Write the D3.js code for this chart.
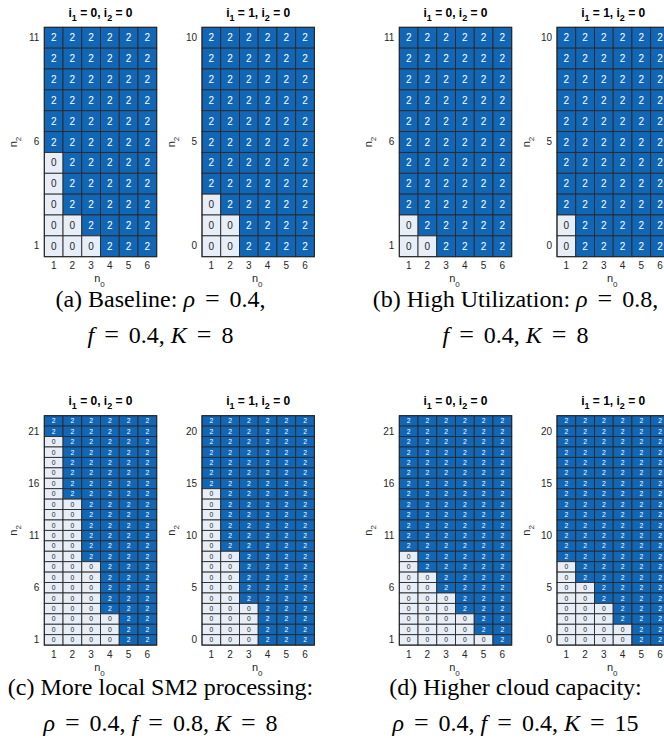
<!DOCTYPE html>
<html>
<head>
<meta charset="utf-8">
<script src="https://cdn.jsdelivr.net/npm/d3@7"></script>
<style>
  body { margin: 0; background: #fff; }
  svg { display: block; }
</style>
</head>
<body>
<div class="chart"></div>
<script>
/* columns: n0 */
const n0Values = [1, 2, 3, 4, 5, 6];

/* rows: n2, listed top to bottom */
const n2Short0 = [11, 10, 9, 8, 7, 6, 5, 4, 3, 2, 1];
const n2Short1 = [10, 9, 8, 7, 6, 5, 4, 3, 2, 1, 0];
const n2Long0 = [22, 21, 20, 19, 18, 17, 16, 15, 14, 13, 12, 11, 10, 9, 8, 7, 6, 5, 4, 3, 2, 1];
const n2Long1 = [21, 20, 19, 18, 17, 16, 15, 14, 13, 12, 11, 10, 9, 8, 7, 6, 5, 4, 3, 2, 1, 0];

/* y tick labels */
const ticksShort0 = [1, 6, 11];
const ticksShort1 = [0, 5, 10];
const ticksLong0 = [1, 6, 11, 16, 21];
const ticksLong1 = [0, 5, 10, 15, 20];

/* optimal action in each cell, one string per row (top row first), one digit per n0 */
const policyA0 = ["222222", "222222", "222222", "222222", "222222", "222222",
  "022222", "022222", "022222", "002222", "000222"];
const policyA1 = ["222222", "222222", "222222", "222222", "222222", "222222",
  "222222", "222222", "022222", "002222", "002222"];
const policyB0 = ["222222", "222222", "222222", "222222", "222222", "222222",
  "222222", "222222", "222222", "022222", "002222"];
const policyB1 = ["222222", "222222", "222222", "222222", "222222", "222222",
  "222222", "222222", "222222", "022222", "022222"];
const policyC0 = ["222222", "222222",
  "022222", "022222", "022222", "022222", "022222", "022222",
  "002222", "002222", "002222", "002222", "002222", "002222",
  "000222", "000222", "000222", "000222", "000222",
  "000022", "000022", "000022"];
const policyC1 = ["222222", "222222", "222222", "222222", "222222", "222222", "222222",
  "022222", "022222", "022222", "022222", "022222", "022222",
  "002222", "002222", "002222", "002222", "002222",
  "000222", "000222", "000222", "000222"];
const policyD0 = ["222222", "222222", "222222", "222222", "222222", "222222", "222222",
  "222222", "222222", "222222", "222222", "222222", "222222",
  "022222", "022222", "002222", "002222", "000222", "000222",
  "000022", "000022", "000002"];
const policyD1 = ["222222", "222222", "222222", "222222", "222222", "222222", "222222",
  "222222", "222222", "222222", "222222", "222222", "222222", "222222",
  "022222", "022222", "002222", "002222", "000222", "000222",
  "000022", "000022"];

/* subfigure captions: [text, kind] pieces per line (0 roman, 1 italic, 2 relation sign) */
const captionA = [[["(a) Baseline: ", 0], ["ρ", 1], ["=", 2], ["0.4,", 0]],
  [["f", 1], ["=", 2], ["0.4, ", 0], ["K", 1], ["=", 2], ["8", 0]]];
const captionB = [[["(b) High Utilization: ", 0], ["ρ", 1], ["=", 2], ["0.8,", 0]],
  [["f", 1], ["=", 2], ["0.4, ", 0], ["K", 1], ["=", 2], ["8", 0]]];
const captionC = [[["(c) More local SM2 processing:", 0]],
  [["ρ", 1], ["=", 2], ["0.4, ", 0], ["f", 1], ["=", 2], ["0.8, ", 0], ["K", 1], ["=", 2], ["8", 0]]];
const captionD = [[["(d) Higher cloud capacity:", 0]],
  [["ρ", 1], ["=", 2], ["0.4, ", 0], ["f", 1], ["=", 2], ["0.4, ", 0], ["K", 1], ["=", 2], ["15", 0]]];

/* layout */
const width = 664;
const height = 738;
const colOffset = [0, 355];
const rowOffset = [0, 388.4];
const hmLeft = [44.3, 202];
const hmWidth = 112.4;
const hmTop = 27.3;
const hmHeight = 229.4;

const sans = "'Liberation Sans', Arial, Helvetica, sans-serif";
const serif = "'Liberation Serif', 'Times New Roman', serif";
const axisColor = "#262626";

const color = d3.scaleOrdinal().domain([0, 2]).range(["#e7eef7", "#1166b6"]);

const subfigs = [
  { col: 0, row: 0, caption: captionA, maps: [
    { i1: 0, n2: n2Short0, ticks: ticksShort0, policy: policyA0 },
    { i1: 1, n2: n2Short1, ticks: ticksShort1, policy: policyA1 }] },
  { col: 1, row: 0, caption: captionB, maps: [
    { i1: 0, n2: n2Short0, ticks: ticksShort0, policy: policyB0 },
    { i1: 1, n2: n2Short1, ticks: ticksShort1, policy: policyB1 }] },
  { col: 0, row: 1, caption: captionC, maps: [
    { i1: 0, n2: n2Long0, ticks: ticksLong0, policy: policyC0 },
    { i1: 1, n2: n2Long1, ticks: ticksLong1, policy: policyC1 }] },
  { col: 1, row: 1, caption: captionD, maps: [
    { i1: 0, n2: n2Long0, ticks: ticksLong0, policy: policyD0 },
    { i1: 1, n2: n2Long1, ticks: ticksLong1, policy: policyD1 }] }
];

const svg = d3.select(".chart").append("svg")
  .attr("width", width)
  .attr("height", height)
  .attr("viewBox", [0, 0, width, height]);

subfigs.forEach(sf => {
  const g = svg.append("g")
    .attr("transform", `translate(${colOffset[sf.col]},${rowOffset[sf.row]})`);

  sf.maps.forEach((m, k) => {
    const x0 = hmLeft[k];
    const x = d3.scaleBand().domain(n0Values).range([x0, x0 + hmWidth]);
    const y = d3.scaleBand().domain(m.n2).range([hmTop, hmTop + hmHeight]);
    const small = m.n2.length > 15;

    const cells = m.policy.flatMap((rowStr, ri) =>
      rowStr.split("").map((ch, ci) => ({ n0: n0Values[ci], n2: m.n2[ri], v: +ch })));

    const hm = g.append("g").attr("class", "heatmap");

    hm.selectAll("rect")
      .data(cells)
      .join("rect")
        .attr("x", d => x(d.n0))
        .attr("y", d => y(d.n2))
        .attr("width", x.bandwidth())
        .attr("height", y.bandwidth())
        .attr("fill", d => color(d.v))
        .attr("stroke", "#2a2a2a")
        .attr("stroke-width", 0.9);

    hm.selectAll("text")
      .data(cells)
      .join("text")
        .attr("x", d => x(d.n0) + x.bandwidth() / 2)
        .attr("y", d => y(d.n2) + y.bandwidth() / 2)
        .attr("dy", "0.36em")
        .attr("text-anchor", "middle")
        .style("font-family", sans)
        .style("font-size", small ? "6.8px" : "10px")
        .attr("fill", d => d.v === 0 ? "#262626" : "#ffffff")
        .text(d => d.v);

    /* outline */
    hm.append("rect")
      .attr("x", x0).attr("y", hmTop)
      .attr("width", hmWidth).attr("height", hmHeight)
      .attr("fill", "none")
      .attr("stroke", "#262626")
      .attr("stroke-width", 1);

    /* axes */
    const yAxis = g.append("g")
      .attr("transform", `translate(${x0},0)`)
      .call(d3.axisLeft(y).tickValues(m.ticks).tickSize(0).tickPadding(5));
    const xAxis = g.append("g")
      .attr("transform", `translate(0,${hmTop + hmHeight})`)
      .call(d3.axisBottom(x).tickSize(0).tickPadding(5.5));
    [yAxis, xAxis].forEach(a => {
      a.select(".domain").remove();
      a.selectAll("text")
        .style("font-family", sans)
        .style("font-size", "10px")
        .attr("fill", axisColor);
    });

    /* axis labels */
    const yl = g.append("text")
      .attr("transform", `translate(${x0 - 27},${hmTop + hmHeight / 2}) rotate(-90)`)
      .attr("text-anchor", "middle")
      .style("font-family", sans)
      .style("font-size", "11px")
      .attr("fill", axisColor);
    yl.append("tspan").text("n");
    yl.append("tspan").attr("dy", 4).style("font-size", "8px").text("2");

    const xl = g.append("text")
      .attr("x", x0 + hmWidth / 2 - 1)
      .attr("y", hmTop + hmHeight + 25.5)
      .attr("text-anchor", "middle")
      .style("font-family", sans)
      .style("font-size", "11px")
      .attr("fill", axisColor);
    xl.append("tspan").text("n");
    xl.append("tspan").attr("dy", 5).style("font-size", "8px").text("0");

    /* title */
    const t = g.append("text")
      .attr("x", x0 + hmWidth / 2)
      .attr("y", 17)
      .attr("text-anchor", "middle")
      .style("font-family", sans)
      .style("font-size", "12px")
      .style("font-weight", "bold")
      .attr("fill", "#000");
    t.append("tspan").text("i");
    t.append("tspan").attr("dy", 3.5).style("font-size", "9px").text("1");
    t.append("tspan").attr("dy", -3.5).text(` = ${m.i1}, i`);
    t.append("tspan").attr("dy", 3.5).style("font-size", "9px").text("2");
    t.append("tspan").attr("dy", -3.5).text(" = 0");
  });

  /* caption */
  sf.caption.forEach((line, li) => {
    const ct = g.append("text")
      .attr("x", 160.5)
      .attr("y", 307 + li * 36)
      .attr("text-anchor", "middle")
      .style("font-family", serif)
      .style("font-size", "24px")
      .attr("fill", "#000");
    let afterEq = false;
    line.forEach(([txt, kind]) => {
      const ts = ct.append("tspan")
        .style("font-style", kind === 1 ? "italic" : "normal")
        .text(txt);
      if (kind === 2) ts.attr("dx", 10).style("font-size", "26px");
      else if (afterEq) ts.attr("dx", 10);
      afterEq = kind === 2;
    });
  });
});
</script>
</body>
</html>
